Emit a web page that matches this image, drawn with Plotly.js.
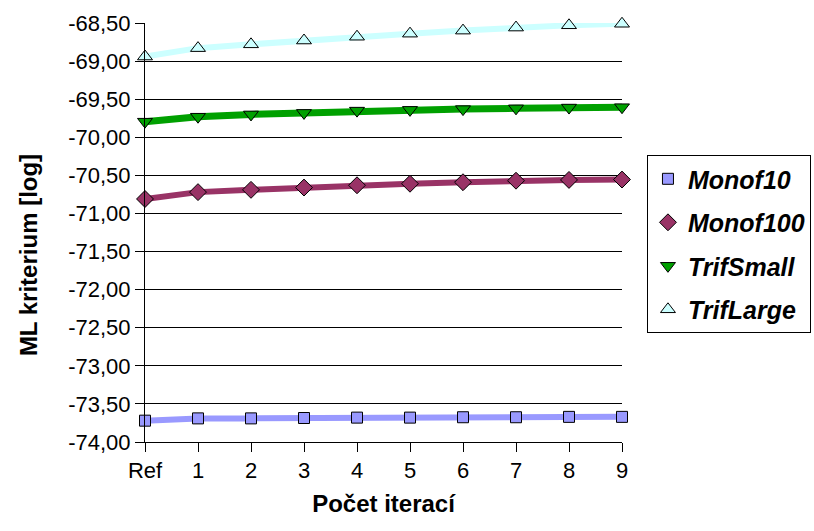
<!DOCTYPE html>
<html>
<head>
<meta charset="utf-8">
<script src="https://cdn.plot.ly/plotly-3.0.1.min.js"></script>
<style>html,body{margin:0;padding:0;background:#fff;}#chart{width:814px;height:531px;}</style>
</head>
<body>
<div id="chart"></div>
<script>
const categories = ["Ref","1","2","3","4","5","6","7","8","9"];
const monof10   = [-73.72,-73.69,-73.69,-73.685,-73.68,-73.68,-73.675,-73.675,-73.67,-73.67];
const monof100  = [-70.81,-70.72,-70.69,-70.66,-70.63,-70.61,-70.59,-70.57,-70.56,-70.555];
const trifSmall = [-69.795,-69.73,-69.70,-69.68,-69.65,-69.64,-69.63,-69.62,-69.61,-69.605];
const trifLarge = [-68.94,-68.83,-68.78,-68.73,-68.68,-68.64,-68.60,-68.56,-68.53,-68.51];
const seriesNames = ["Monof10","Monof100","TrifSmall","TrifLarge"];
const yTickVals = [-74,-73.5,-73,-72.5,-72,-71.5,-71,-70.5,-70,-69.5,-69,-68.5];
const yTickText = ["-74,00","-73,50","-73,00","-72,50","-72,00","-71,50","-71,00","-70,50","-70,00","-69,50","-69,00","-68,50"];
const yTitle = "ML kriterium [log]";
const xTitle = "Počet iterací";

const styles = [
  {data: monof10,   line: "#9999FF", fill: "#9999FF", symbol: "square",        size: 11, width: 6},
  {data: monof100,  line: "#993366", fill: "#993366", symbol: "diamond",       size: 13, width: 6},
  {data: trifSmall, line: "#00A000", fill: "#00A000", symbol: "triangle-down", size: 13, width: 7},
  {data: trifLarge, line: "#CCFFFF", fill: "#CCFFFF", symbol: "triangle-up",   size: 13, width: 6}
];

const traces = [];
styles.forEach((s, i) => {
  traces.push({
    x: categories, y: s.data, type: "scatter", mode: "lines",
    line: {color: s.line, width: s.width}, showlegend: false,
    hoverinfo: "skip", cliponaxis: false
  });
});
styles.forEach((s, i) => {
  traces.push({
    x: categories, y: s.data, type: "scatter", mode: "markers",
    name: seriesNames[i], legendgroup: "g" + i,
    marker: {symbol: s.symbol, size: s.size, color: s.fill, line: {color: "#000000", width: 1}},
    cliponaxis: false
  });
});

const font = "Arial, 'Liberation Sans', sans-serif";
const layout = {
  width: 814, height: 531,
  margin: {l: 145, r: 192, t: 23, b: 89, pad: 0, autoexpand: false},
  paper_bgcolor: "#ffffff", plot_bgcolor: "#ffffff",
  font: {family: font, color: "#000000", size: 22},
  showlegend: true,
  legend: {
    xref: "container", yref: "container",
    x: 0.7948, y: 0.708, xanchor: "left", yanchor: "top",
    bordercolor: "#000000", borderwidth: 1, bgcolor: "#ffffff",
    font: {family: font, size: 25, weight: "bold", style: "italic", color: "#000000"},
    tracegroupgap: 8, traceorder: "grouped"
  },
  xaxis: {
    type: "category", range: [0, 9],
    showline: true, linecolor: "#000000", linewidth: 1,
    ticks: "outside", ticklen: 9, tickcolor: "#000000",
    showgrid: false, zeroline: false,
    tickfont: {family: font, size: 22},
    title: {text: xTitle, font: {family: font, size: 24, weight: "bold"}, standoff: 12}
  },
  yaxis: {
    range: [-74, -68.5], tickmode: "array", tickvals: yTickVals, ticktext: yTickText,
    showline: true, linecolor: "#000000", linewidth: 1,
    ticks: "outside", ticklen: 9, tickcolor: "#000000",
    showgrid: true, gridcolor: "#000000", gridwidth: 1, zeroline: false,
    tickfont: {family: font, size: 22}
  },
  annotations: [{
    text: yTitle, xref: "paper", yref: "paper", x: -0.2453, y: 0.446,
    xanchor: "center", yanchor: "middle", textangle: -90, showarrow: false,
    font: {family: font, size: 24, weight: "bold", color: "#000000"}
  }]
};

Plotly.newPlot("chart", traces, layout, {displayModeBar: false, staticPlot: true});
</script>
</body>
</html>
